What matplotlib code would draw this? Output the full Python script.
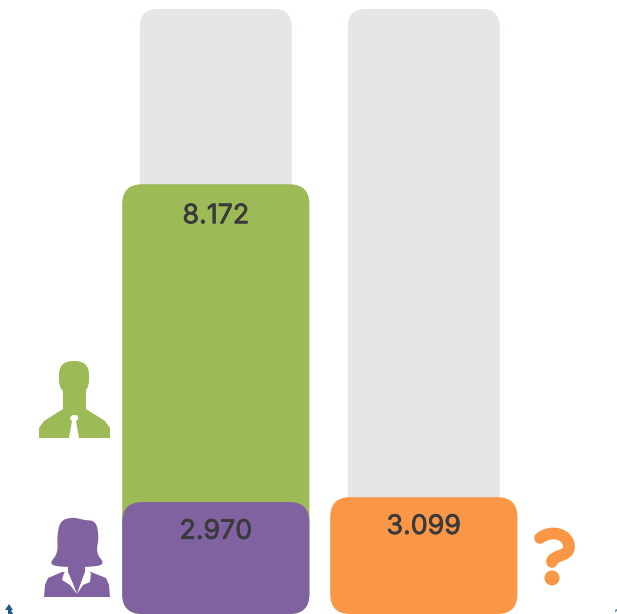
import matplotlib
matplotlib.use('Agg')
import matplotlib.pyplot as plt
import matplotlib.patheffects as pe
from matplotlib.patches import FancyBboxPatch, PathPatch, Circle
from matplotlib.path import Path

# values as printed, and the bar heights
categories = ['left', 'right']
value_labels = ['8.172', '2.970', '3.099']
grey_tops = [16050, 16050]
green_top = 11400
purple_top = 2970
orange_top = 3099

GREEN = '#9CBB57'
PURPLE = '#8162A0'
ORANGE = '#F99746'
GREY = '#E5E6E8'
TEXT = '#3A3A3C'

W, H = 617, 614
PX_PER_UNIT = 0.0377
BAR_SPACING = 208
LEFT_CENTER = 215.8


def rounded_bar(ax, x, width, top, color, radius_px=20):
    # radius is given in x units, mutation_aspect keeps the corners round
    x_per_px = 1 / BAR_SPACING
    y_per_px = 1 / PX_PER_UNIT
    p = FancyBboxPatch((x - width / 2, 0), width, top,
                       boxstyle=f'round,pad=0,rounding_size={radius_px * x_per_px}',
                       mutation_aspect=y_per_px / x_per_px,
                       fc=color, ec='none')
    ax.add_patch(p)


def chaikin(pts):
    out = []
    for i, (a, b) in enumerate(pts):
        c, d = pts[(i + 1) % len(pts)]
        out.append((0.75 * a + 0.25 * c, 0.75 * b + 0.25 * d))
        out.append((0.25 * a + 0.75 * c, 0.25 * b + 0.75 * d))
    return out


def shape(ax, pts, color, z=3, rounds=0):
    for _ in range(rounds):
        pts = chaikin(pts)
    verts = list(pts) + [pts[0]]
    codes = [Path.MOVETO] + [Path.LINETO] * (len(pts) - 1) + [Path.CLOSEPOLY]
    ax.add_patch(PathPatch(Path(verts, codes), fc=color, ec='none', zorder=z))


fig = plt.figure(figsize=(W / 100, H / 100), dpi=100)
ax = fig.add_axes([0, 0, 1, 1])
ax.set_xlim(-LEFT_CENTER / BAR_SPACING, (W - LEFT_CENTER) / BAR_SPACING)
ax.set_ylim(0, H / PX_PER_UNIT)
ax.axis('off')

for i, top in enumerate(grey_tops):
    rounded_bar(ax, i, 0.73, top, GREY, radius_px=18)
rounded_bar(ax, 0, 0.9, green_top, GREEN)
rounded_bar(ax, 0, 0.9, purple_top, PURPLE)
rounded_bar(ax, 1, 0.9, orange_top, ORANGE)

font = ['Inter', 'DejaVu Sans']
bold = [pe.withStroke(linewidth=0.5, foreground=TEXT)]
ax.text(0, green_top - 850, value_labels[0], ha='center', va='center', fontsize=19.3, color=TEXT, family=font, path_effects=bold)
ax.text(0, purple_top - 790, value_labels[1], ha='center', va='center', fontsize=19.3, color=TEXT, family=font, path_effects=bold)
ax.text(1, orange_top - 790, value_labels[2], ha='center', va='center', fontsize=19.3, color=TEXT, family=font, path_effects=bold)

# icons are decoration, drawn in pixel coordinates
ov = fig.add_axes([0, 0, 1, 1], facecolor='none')
ov.set_xlim(0, W)
ov.set_ylim(H, 0)
ov.axis('off')

# man
ov.add_patch(FancyBboxPatch((59, 361), 30, 33, boxstyle='round,pad=0,rounding_size=14', fc=GREEN, ec='none'))
shape(ov, [(63, 390), (86, 390), (86, 409), (105, 421), (110, 428), (110, 438),
           (39, 438), (39, 428), (44, 421), (63, 409)], GREEN)
shape(ov, [(71, 416), (73, 415), (76, 415), (78, 416), (78, 419), (76, 421),
           (79, 438), (69, 438), (72, 421), (70, 419)], 'white', z=4)

# woman
hair = [(72, 517), (84, 520), (96, 521), (99, 537), (96, 553), (105, 564), (93, 567), (60, 567),
        (49, 564), (58, 553), (57, 537), (60, 521)]
shape(ov, hair, PURPLE, rounds=2)
shape(ov, [(68, 560), (85, 560), (85, 572), (91, 572), (106, 578), (109, 585), (110, 597),
           (44, 597), (45, 585), (48, 578), (62, 572), (68, 572)], PURPLE)
shape(ov, [(62, 580), (64, 573), (68, 570), (77, 594), (85, 570), (91, 573), (90, 582), (83, 585),
           (77, 594), (70, 585)], 'white', z=4)
shape(ov, [(68, 566), (85, 566), (85, 572), (77, 592), (68, 572)], PURPLE, z=5)

# question mark
q = Path([(540, 538), (552, 529), (569, 534), (569, 547), (569, 557), (552, 555), (552, 562)],
         [Path.MOVETO, Path.CURVE4, Path.CURVE4, Path.CURVE4, Path.CURVE4, Path.CURVE4, Path.CURVE4])
ov.add_patch(PathPatch(q, fc='none', ec=ORANGE, lw=8.4, capstyle='round'))
ov.add_patch(Circle((552, 578), 7.5, fc=ORANGE, ec='none'))

# cut off bits at the bottom corners
shape(ov, [(5, 610), (9, 604), (13, 610), (11, 610), (13, 614), (8, 614), (8, 610)], '#1F5C85')
shape(ov, [(615, 610), (617, 609), (617, 611), (615, 612)], '#4F86A8')

fig.savefig('out.png', dpi=100)
